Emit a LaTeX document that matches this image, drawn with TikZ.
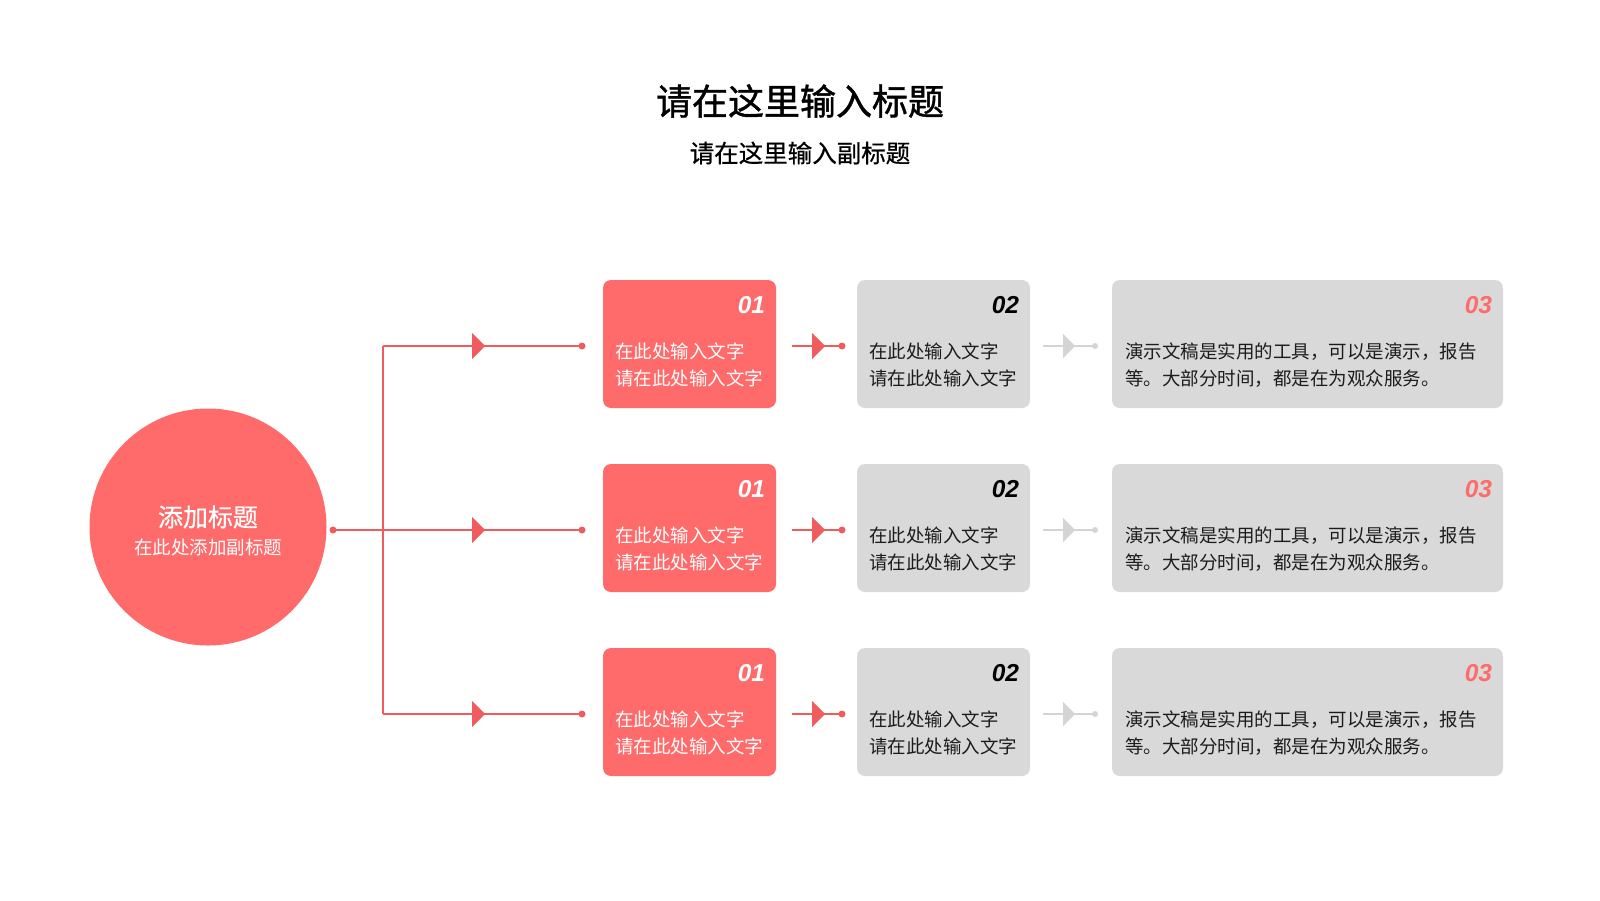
\documentclass[tikz,border=0pt]{standalone}
\usepackage{fontspec}
\setmainfont{Noto Sans CJK SC}
\newfontfamily\cjkmid[FakeBold=1.2]{Noto Sans CJK SC}
\newfontfamily\cjksemi[FakeBold=0.6]{Noto Sans CJK SC}
\newfontfamily\numfont{Liberation Sans}
\usetikzlibrary{arrows.meta, positioning, decorations.markings}
\definecolor{coral}{RGB}{255, 106, 106}
\definecolor{linered}{RGB}{238, 92, 94}
\definecolor{boxgray}{RGB}{217, 217, 217}
\definecolor{arrowgray}{RGB}{212, 212, 212}
\definecolor{inkdark}{RGB}{28, 28, 28}

\tikzset{
  redbox/.style={fill=coral, rounded corners=8pt, minimum width=173pt, minimum height=128pt, inner sep=0pt},
  graybox/.style={fill=boxgray, rounded corners=8pt, minimum height=128pt, inner sep=0pt},
  bodytext/.style={anchor=west, align=left, inner sep=0pt, font=\fontsize{18.5}{26.5}\selectfont},
  numtag/.style={anchor=north east, inner sep=0pt, font=\numfont\bfseries\itshape\fontsize{24.5}{24.5}\selectfont},
  reddot/.style={circle, fill=linered, inner sep=0pt, minimum size=7pt},
  graydot/.style={circle, fill=arrowgray, inner sep=0pt, minimum size=6pt},
  redline/.style={draw=linered, line width=2pt},
  redlink/.style={redline, postaction={decorate},
    decoration={markings, mark=at position #1 with {\arrow[linered]{Triangle[length=13pt, width=26pt]}}}},
  graylink/.style={draw=arrowgray, line width=2pt, postaction={decorate},
    decoration={markings, mark=at position #1 with {\arrow[arrowgray]{Triangle[length=12pt, width=24pt]}}}}
}

\begin{document}
\begin{tikzpicture}[x=1pt, y=-1pt]
  \path[fill=white] (0,0) rectangle (1600,900);

  % Heading
  \node[font=\cjkmid\fontsize{36}{40}\selectfont] (title) at (800,101) {请在这里输入标题};
  \node[font=\cjksemi\fontsize{24.5}{28}\selectfont] (subtitle) at (800,153) {请在这里输入副标题};

  % Root circle
  \node[circle, fill=coral, minimum size=237pt, inner sep=0pt] (root) at (208,527) {};
  \node[text=white, font=\cjksemi\fontsize{25}{30}\selectfont] (rootmain) at (208,517) {添加标题};
  \node[text=white, font=\fontsize{18.5}{22}\selectfont] (rootsub) at (208,547) {在此处添加副标题};

  % Fork
  \node[reddot] (hub) at (333,530) {};
  \coordinate (fork1) at (383,346);
  \coordinate (fork3) at (383,714);
  \draw[redline] (fork1) -- (fork3);

  % Row 1
  \node[redbox] (b1a) at (689.5,344) {};
  \node[numtag, text=white] (n1a) at ([xshift=-11pt, yshift=-16.5pt]b1a.north east) {01};
  \node[bodytext, text=white] (t1a) at ([xshift=12pt, yshift=-21pt]b1a.west) {在此处输入文字\\请在此处输入文字};
  \node[graybox, minimum width=173pt] (b1b) at (943.5,344) {};
  \node[numtag, text=black] (n1b) at ([xshift=-11pt, yshift=-16.5pt]b1b.north east) {02};
  \node[bodytext, text=inkdark] (t1b) at ([xshift=12pt, yshift=-21pt]b1b.west) {在此处输入文字\\请在此处输入文字};
  \node[graybox, minimum width=391pt] (b1c) at (1307.5,344) {};
  \node[numtag, text=coral] (n1c) at ([xshift=-11pt, yshift=-16.5pt]b1c.north east) {03};
  \node[bodytext, text=inkdark] (t1c) at ([xshift=13pt, yshift=-21pt]b1c.west) {演示文稿是实用的工具，可以是演示，报告\\等。大部分时间，都是在为观众服务。};
  \node[reddot] (p1) at (582,346) {};
  \node[reddot] (q1) at (842,346) {};
  \node[graydot] (r1) at (1095,346) {};
  \coordinate (s1) at (792,346);
  \coordinate (u1) at (1043,346);
  \draw[redlink=-97pt] (fork1) -- (p1.center);
  \draw[redlink=-17pt] (s1) -- (q1.center);
  \draw[graylink=-20pt] (u1) -- (r1.center);

  % Row 2
  \node[redbox] (b2a) at (689.5,528) {};
  \node[numtag, text=white] (n2a) at ([xshift=-11pt, yshift=-16.5pt]b2a.north east) {01};
  \node[bodytext, text=white] (t2a) at ([xshift=12pt, yshift=-21pt]b2a.west) {在此处输入文字\\请在此处输入文字};
  \node[graybox, minimum width=173pt] (b2b) at (943.5,528) {};
  \node[numtag, text=black] (n2b) at ([xshift=-11pt, yshift=-16.5pt]b2b.north east) {02};
  \node[bodytext, text=inkdark] (t2b) at ([xshift=12pt, yshift=-21pt]b2b.west) {在此处输入文字\\请在此处输入文字};
  \node[graybox, minimum width=391pt] (b2c) at (1307.5,528) {};
  \node[numtag, text=coral] (n2c) at ([xshift=-11pt, yshift=-16.5pt]b2c.north east) {03};
  \node[bodytext, text=inkdark] (t2c) at ([xshift=13pt, yshift=-21pt]b2c.west) {演示文稿是实用的工具，可以是演示，报告\\等。大部分时间，都是在为观众服务。};
  \node[reddot] (p2) at (582,530) {};
  \node[reddot] (q2) at (842,530) {};
  \node[graydot] (r2) at (1095,530) {};
  \coordinate (s2) at (792,530);
  \coordinate (u2) at (1043,530);
  \draw[redlink=-97pt] (hub.center) -- (p2.center);
  \draw[redlink=-17pt] (s2) -- (q2.center);
  \draw[graylink=-20pt] (u2) -- (r2.center);

  % Row 3
  \node[redbox] (b3a) at (689.5,712) {};
  \node[numtag, text=white] (n3a) at ([xshift=-11pt, yshift=-16.5pt]b3a.north east) {01};
  \node[bodytext, text=white] (t3a) at ([xshift=12pt, yshift=-21pt]b3a.west) {在此处输入文字\\请在此处输入文字};
  \node[graybox, minimum width=173pt] (b3b) at (943.5,712) {};
  \node[numtag, text=black] (n3b) at ([xshift=-11pt, yshift=-16.5pt]b3b.north east) {02};
  \node[bodytext, text=inkdark] (t3b) at ([xshift=12pt, yshift=-21pt]b3b.west) {在此处输入文字\\请在此处输入文字};
  \node[graybox, minimum width=391pt] (b3c) at (1307.5,712) {};
  \node[numtag, text=coral] (n3c) at ([xshift=-11pt, yshift=-16.5pt]b3c.north east) {03};
  \node[bodytext, text=inkdark] (t3c) at ([xshift=13pt, yshift=-21pt]b3c.west) {演示文稿是实用的工具，可以是演示，报告\\等。大部分时间，都是在为观众服务。};
  \node[reddot] (p3) at (582,714) {};
  \node[reddot] (q3) at (842,714) {};
  \node[graydot] (r3) at (1095,714) {};
  \coordinate (s3) at (792,714);
  \coordinate (u3) at (1043,714);
  \draw[redlink=-97pt] (fork3) -- (p3.center);
  \draw[redlink=-17pt] (s3) -- (q3.center);
  \draw[graylink=-20pt] (u3) -- (r3.center);
\end{tikzpicture}
\end{document}
